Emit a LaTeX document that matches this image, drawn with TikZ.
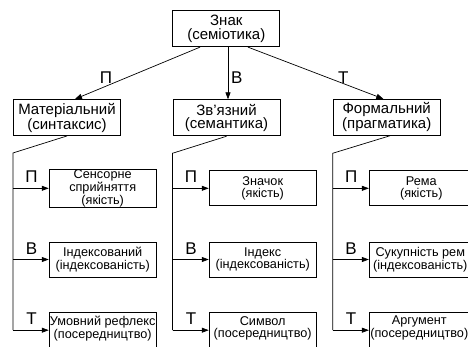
\documentclass[tikz,border=0pt]{standalone}
\usepackage{fontspec}
\setmainfont{Liberation Sans}
\usetikzlibrary{arrows.meta,calc}
\begin{document}
\begin{tikzpicture}[x=1pt,y=-1pt,
  box/.style={draw,line width=0.9pt,inner sep=0pt,align=center,minimum width=107pt,minimum height=36pt,font=\fontsize{15pt}{13.5pt}\selectfont},
  sub/.style={draw,line width=0.9pt,inner sep=0pt,align=center,minimum width=107pt,minimum height=35pt,font=\fontsize{12.7pt}{11.7pt}\selectfont},
  subtxt/.style={inner sep=0pt,align=center,font=\fontsize{12.7pt}{11.7pt}\selectfont},
  lbl/.style={inner sep=0pt,font=\fontsize{17pt}{17pt}\selectfont},
  conn/.style={line width=0.7pt},
  arr/.style={conn,-{Triangle[length=7pt,width=5pt]}}]
\useasboundingbox (0,0) rectangle (468,347);
\clip (0,0) rectangle (468,347);
% main boxes
\node[box] (top) at (226.3,28.7) {Знак\\(семіотика)};
\node[box] (mat) at (67,117.5) {Матеріальний\\(синтаксис)};
\node[box] (zv) at (226.5,117.8) {Зв’язний\\(семантика)};
\node[box] (form) at (386.7,117.3) {Формальний\\(прагматика)};
% sub boxes
\node[sub] (s11) at (102.7,188.3) {Сенсорне\\сприйняття\\(якість)};
\node[sub] (s12) at (102.7,259.5) {Індексований\\(індексованість)};
\node[sub] (s13) at (102.7,330.2) {};
\node[subtxt] (s13t) at ([yshift=2pt]s13.center) {Умовний рефлекс\\(посередництво)};
\node[sub] (s21) at (262.7,188.3) {Значок\\(якість)};
\node[sub] (s22) at (262.7,259.5) {Індекс\\(індексованість)};
\node[sub] (s23) at (262.7,330.2) {};
\node[subtxt] (s23t) at ([yshift=2pt]s23.center) {Символ\\(посередництво)};
\node[sub,minimum width=104pt] (s31) at (421.3,188.3) {Рема\\(якість)};
\node[sub,minimum width=104pt] (s32) at (421.3,259.5) {};
\node[subtxt] (s32t) at ([xshift=-1pt]s32.center) {Сукупність рем\\(індексованість)};
\node[sub,minimum width=104pt] (s33) at (421.3,330.2) {};
\node[subtxt] (s33t) at ([xshift=-2pt,yshift=2pt]s33.center) {Аргумент\\(посередництво)};
% top connectors
\draw[arr] ([xshift=-26.3pt]top.south) -- ([xshift=8pt]mat.north);
\draw[arr] ([xshift=1.7pt]top.south) -- ([xshift=1.7pt]top.south |- zv.north);
\draw[arr] ([xshift=21.7pt]top.south) -- ([xshift=-3.4pt]form.north);
\node[lbl] (lp) at (106,78) {П};
\node[lbl] (lv) at (236.7,78) {В};
\node[lbl] (lt) at (343.3,78) {Т};
% columns
\coordinate (cm) at ([yshift=-17pt]mat.south west);
\coordinate (cz) at ([yshift=-17pt]zv.south west);
\coordinate (cf) at ([yshift=-17.5pt]form.south west);
\draw[conn] (mat.south) -- (cm) -- (cm |- s13.west);
\draw[conn] (zv.south) -- (cz) -- (cz |- s23.west);
\draw[conn] ([xshift=3.3pt]form.south) -- (cf) -- (cf |- s33.west);
\foreach \c/\a/\b/\d in {cm/s11/s12/s13, cz/s21/s22/s23, cf/s31/s32/s33}{
  \draw[arr] (\c |- \a.west) -- (\a.west);
  \draw[arr] (\c |- \b.west) -- (\b.west);
  \draw[arr] (\c |- \d.west) -- (\d.west);
  \node[lbl] (p\a) at ($(\c |- \a.west)+(18.4,-11.3)$) {П};
  \node[lbl] (v\b) at ($(\c |- \b.west)+(18.4,-11.3)$) {В};
  \node[lbl] (t\d) at ($(\c |- \d.west)+(18.4,-11.3)$) {Т};
}
\end{tikzpicture}
\end{document}
